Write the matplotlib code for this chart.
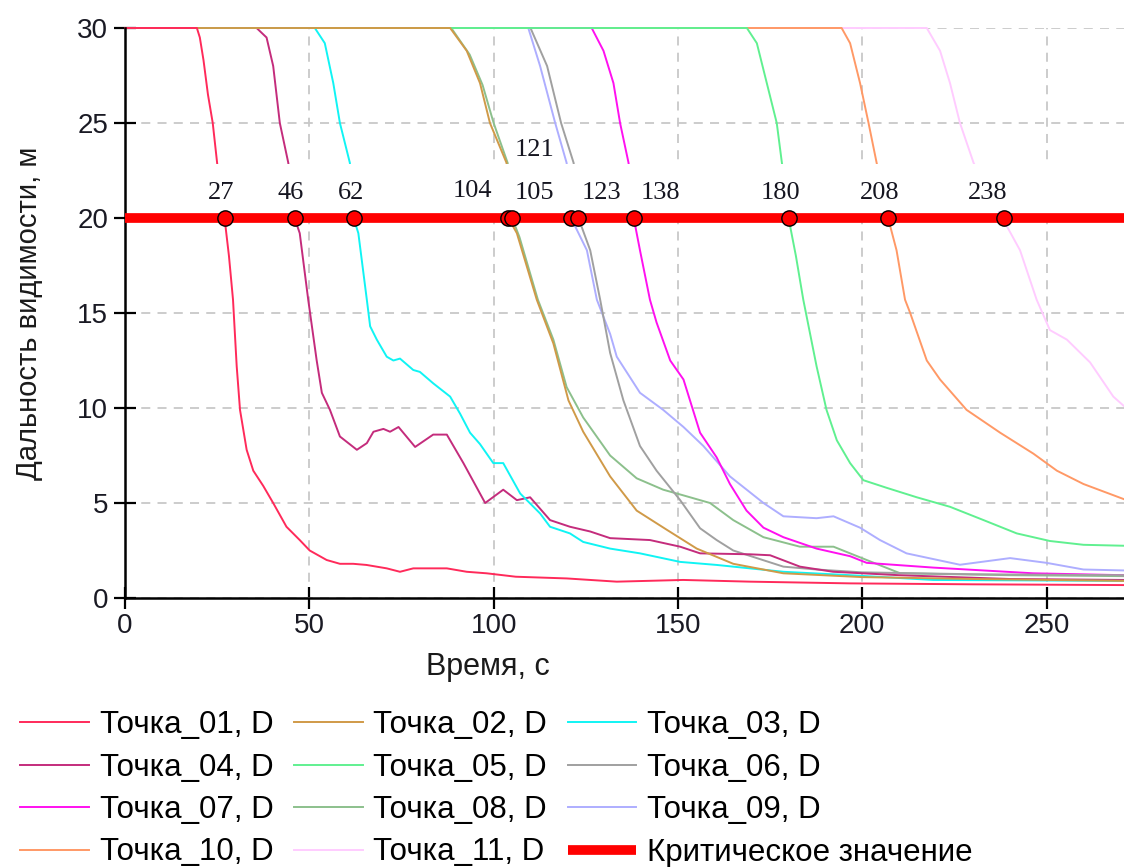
import matplotlib
matplotlib.use('Agg')
import matplotlib.pyplot as plt

plt.rcParams['font.family'] = ['Liberation Sans', 'DejaVu Sans']

# visibility range curves, time in s, distance in m ==========================
t01 = [0, 19.5, 20.3, 21.3, 22.5, 23.8, 25.5, 27, 28.2, 29.3, 30.3, 31.2, 33, 34.8, 37.5, 40.2, 43.8, 47.4, 50.1, 54.7, 58.3, 61.9, 65.5, 71, 74.6, 78.2, 83.6, 87.3, 92.7, 98.1, 106, 119.8, 133.4, 151.4, 169.6, 196.7, 230, 271]
d01 = [30, 30, 29.5, 28.3, 26.5, 25, 22, 20, 18, 15.7, 12.2, 9.9, 7.8, 6.7, 5.9, 5.0, 3.75, 3.05, 2.5, 2.0, 1.8, 1.8, 1.74, 1.56, 1.38, 1.56, 1.56, 1.56, 1.38, 1.3, 1.12, 1.03, 0.86, 0.95, 0.86, 0.77, 0.72, 0.68]

t02 = [0, 88.2, 92.7, 96.3, 99, 103.5, 104, 106.3, 111.7, 116.2, 120.3, 124.3, 131.6, 138.8, 146.9, 155.1, 165, 178.6, 200, 230, 271]
d02 = [30, 30, 28.8, 27.1, 25, 22.9, 20, 19.2, 15.7, 13.4, 10.4, 8.75, 6.4, 4.6, 3.6, 2.6, 1.8, 1.3, 1.1, 1.0, 0.9]

t03 = [0, 51.5, 54.2, 56.5, 58.3, 61, 62, 63.3, 65.6, 66.5, 68.3, 71, 72.8, 74.6, 78.2, 80, 83.6, 88.2, 90.9, 93.6, 96.3, 99.9, 102.6, 107.2, 112.6, 115.3, 120.7, 124.3, 131.6, 139.7, 150.6, 160.5, 178.6, 196.7, 219.2, 271]
d03 = [30, 30, 29.2, 27.1, 25, 22.9, 20, 19.2, 15.7, 14.3, 13.6, 12.7, 12.5, 12.6, 12.0, 11.9, 11.3, 10.6, 9.7, 8.7, 8.1, 7.1, 7.1, 5.5, 4.45, 3.75, 3.4, 2.95, 2.6, 2.35, 1.9, 1.74, 1.38, 1.2, 0.95, 0.9]

t04 = [0, 35.7, 38.4, 40.2, 42, 44.3, 46, 47.4, 49.7, 52, 53.4, 55.6, 58.3, 62.9, 65.6, 67.4, 70.1, 71.9, 74.2, 78.7, 83.6, 87.3, 91.8, 97.7, 102.6, 106.3, 109.9, 115.3, 120.7, 126.2, 131.6, 142.4, 150.6, 156, 169.6, 175, 183.1, 192.1, 210, 240, 271]
d04 = [30, 30, 29.5, 28, 25, 22.9, 20, 19.2, 15.7, 12.5, 10.8, 9.9, 8.5, 7.8, 8.15, 8.75, 8.9, 8.75, 9.0, 7.95, 8.6, 8.6, 7.1, 5.0, 5.7, 5.15, 5.3, 4.1, 3.75, 3.5, 3.15, 3.05, 2.7, 2.35, 2.3, 2.25, 1.65, 1.38, 1.2, 1.0, 0.95]

t05 = [0, 168.7, 171.4, 174.1, 176.8, 178.2, 180, 182, 184, 187.6, 190.3, 193.1, 196.7, 200.3, 206.6, 214.8, 223.8, 232.9, 241.9, 250.9, 260, 271]
d05 = [30, 30, 29.2, 27.1, 25, 22.9, 20, 18, 15.7, 12.2, 9.9, 8.3, 7.1, 6.2, 5.8, 5.3, 4.8, 4.1, 3.4, 3.0, 2.8, 2.75]

t06 = [0, 110, 114.5, 118.3, 121.7, 123, 126.2, 128.9, 131.6, 135.2, 139.7, 144.2, 150.6, 156, 160.5, 165, 178.6, 187.6, 200, 230, 271]
d06 = [30, 30, 28, 25, 22.9, 20, 18.3, 15.7, 12.9, 10.4, 8.0, 6.7, 5.15, 3.67, 3.05, 2.5, 1.65, 1.5, 1.35, 1.25, 1.2]

t07 = [0, 126.6, 129.8, 132.5, 134.3, 136.6, 138, 139.7, 142.4, 144.2, 147.9, 151.5, 156, 160.5, 164.1, 168.6, 173.2, 178.6, 187.6, 196.7, 201.2, 219.3, 246.4, 271]
d07 = [30, 30, 28.8, 27.1, 25, 22.9, 20, 18.3, 15.7, 14.5, 12.5, 11.5, 8.7, 7.4, 6.0, 4.6, 3.7, 3.2, 2.6, 2.2, 1.85, 1.6, 1.3, 1.2]

t08 = [0, 88.5, 93.5, 97, 100, 103.8, 105, 107, 112, 116.2, 119.8, 124.3, 131.6, 138.8, 146, 151.5, 158.7, 165, 173.2, 183.1, 192.2, 201.2, 210.3, 240, 271]
d08 = [30, 30, 28.6, 27, 25, 22.9, 20, 19, 15.7, 13.6, 11.1, 9.5, 7.5, 6.3, 5.7, 5.4, 5.0, 4.1, 3.2, 2.7, 2.7, 2.0, 1.3, 1.2, 1.15]

t09 = [0, 109.4, 112.6, 116.7, 119.8, 121, 125.3, 128, 131.6, 133.4, 139.7, 146, 151.5, 156.9, 164.1, 173.2, 178.6, 187.6, 192.2, 199.4, 204.8, 212, 226.5, 240.1, 250, 260, 271]
d09 = [30, 30, 28, 25, 22.9, 20, 18.3, 15.7, 13.9, 12.7, 10.8, 9.9, 9.0, 8.0, 6.4, 5.0, 4.3, 4.2, 4.3, 3.7, 3.05, 2.35, 1.75, 2.1, 1.85, 1.5, 1.45]

t10 = [0, 194.4, 196.7, 199.4, 201.7, 203.9, 207, 209.3, 211.6, 213, 217.5, 221.1, 228.3, 237.4, 246.4, 252.8, 260, 271]
d10 = [30, 30, 29.2, 27.1, 25, 22.9, 20, 18.3, 15.7, 15.0, 12.5, 11.5, 9.9, 8.7, 7.6, 6.7, 6.0, 5.2]

t11 = [0, 217.5, 221.1, 223.8, 226.5, 230.2, 238, 242.8, 247.3, 250.9, 255.5, 261.8, 268.1, 271]
d11 = [30, 30, 28.8, 27.1, 25, 22.9, 20, 18.3, 15.7, 14.1, 13.6, 12.4, 10.6, 10.1]

series_names = ['Точка_01, D', 'Точка_02, D', 'Точка_03, D', 'Точка_04, D',
                'Точка_05, D', 'Точка_06, D', 'Точка_07, D', 'Точка_08, D',
                'Точка_09, D', 'Точка_10, D', 'Точка_11, D']
series_colors = ['#FF2A5A', '#D09A48', '#10F4F4', '#C42C7C', '#60F090',
                 '#A0A0A0', '#FF10F0', '#8CC08C', '#AEAEFF', '#FF9966',
                 '#FFCCFF']

critical_value = 20
critical_name = 'Критическое значение'
crossing_t = [27, 46, 62, 104, 105, 121, 123, 138, 180, 207, 238.5]
crossing_labels = ['27', '46', '62', '104', '105', '121', '123', '138',
                   '180', '208', '238']
# label offsets from the marker, pixels
label_offsets = [(-3, 25), (-4, 25), (-2, 25), (-36, 27), (22, 25),
                 (-37, 68), (23, 25), (27, 25), (-8, 25), (-8, 25),
                 (-17, 25)]

x_ticks = [0, 50, 100, 150, 200, 250]
y_ticks = [0, 5, 10, 15, 20, 25, 30]

curves_t = [t01, t02, t03, t04, t05, t06, t07, t08, t09, t10, t11]
curves_d = [d01, d02, d03, d04, d05, d06, d07, d08, d09, d10, d11]

# A. figure ==================================================================
W, H = 1124, 867
fig = plt.figure(figsize=(W / 100, H / 100), dpi=100)
ax = fig.add_axes([125 / W, 1 - 598 / H, 999 / W, 570 / H])

handles = [None] * len(curves_t)
for i in reversed(range(len(curves_t))):
    line, = ax.plot(curves_t[i], curves_d[i], color=series_colors[i],
                    lw=1.4, zorder=2, clip_on=False,
                    label=series_names[i])
    handles[i] = line

# white band behind the crossing labels
ax.axhspan(20.35, 22.85, color='white', lw=0, zorder=2.4)

crit, = ax.plot([0, 271], [critical_value, critical_value], color='#FF0000',
                lw=7, zorder=3, solid_capstyle='butt', label=critical_name)
ax.plot(crossing_t, [critical_value] * len(crossing_t), ls='none',
        marker='o', ms=11, mfc='#FF0000', mec='black', mew=1.0,
        zorder=4, clip_on=False)
for t, lab, off in zip(crossing_t, crossing_labels, label_offsets):
    ax.annotate(lab, xy=(t, critical_value), xytext=off,
                textcoords='offset pixels', ha='center', va='center',
                fontsize=19, family='Liberation Serif', color='#151520',
                zorder=5)

ax.set_xlim(0, 271)
ax.set_ylim(0, 30)
ax.set_xticks(x_ticks)
ax.set_yticks(y_ticks)
ax.grid(True, color='#C8C8C8', ls=(0, (5, 4)), lw=1.3)
ax.set_axisbelow(True)

for s in ['top', 'right']:
    ax.spines[s].set_visible(False)
for s in ['left', 'bottom']:
    ax.spines[s].set_linewidth(1.8)
ax.tick_params(direction='inout', length=16, width=1.6, labelsize=20,
               labelcolor='#1a1a24')
ax.tick_params(axis='y', pad=4)
ax.tick_params(axis='x', pad=3)

ax.set_ylabel('Дальность видимости, м', fontsize=21, color='#1a1a1a')
ax.yaxis.set_label_coords(-0.082, 0.5)
ax.set_xlabel('Время, с', fontsize=22, color='#1a1a1a', va='top')
ax.xaxis.set_label_coords(0.363, -0.095)

# legend, filled row by row
order = [0, 3, 6, 9, 1, 4, 7, 10, 2, 5, 8]
leg_handles = [handles[i] for i in order] + [crit]
leg_labels = [series_names[i] for i in order] + [critical_name]
fig.legend(leg_handles, leg_labels, ncol=3, loc='upper left',
           bbox_to_anchor=(20 / W, 1 - 710 / H), frameon=False,
           borderpad=0, borderaxespad=0, handlelength=2.2,
           handletextpad=0.35, columnspacing=0.65, labelspacing=0.4,
           fontsize=22.5)

fig.savefig('out.png', dpi=100)
